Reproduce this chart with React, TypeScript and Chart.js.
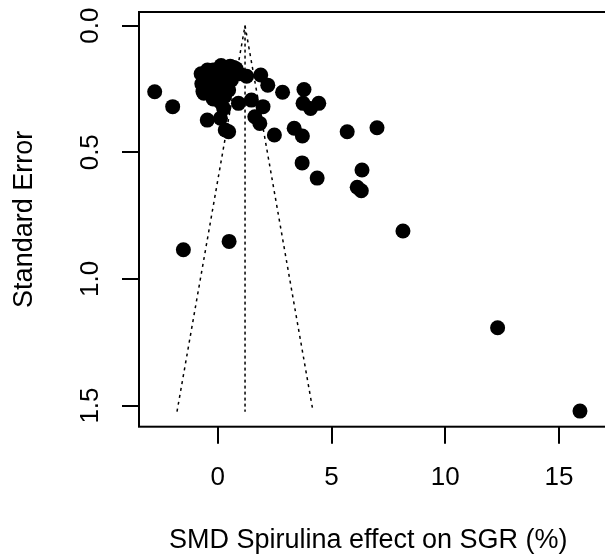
import React, { useEffect, useRef } from "react";
import { Chart, registerables } from "chart.js";

Chart.register(...registerables);

// Study effect sizes (SMD) and their standard errors
const effectSizes = [
  -2.77, -1.98, -1.51, 0.5, 15.92, 12.3, 8.14, 6.34, 6.13, 6.31,
  4.37, 3.71, 5.69, 7.0, 3.36, 3.72, 2.49, 3.79, 3.75, 4.08,
  4.44, 2.85, 1.89, 2.2, 0.91, 1.48, 1.99, 1.63, 1.85, 1.27,
  -0.46, 0.12, 0.26, 0.33, 0.48, -0.61, 0.48,
  -0.73, -0.7, -0.65, -0.5, -0.45, -0.35, -0.3, -0.2, -0.15, -0.05,
  0.05, 0.15, 0.2, 0.25, 0.35, 0.45, 0.55, 0.7, 0.8, 0.95,
  0.6, -0.05, 0.1, -0.2, 0.3,
];
const standardErrors = [
  0.261, 0.32, 0.885, 0.852, 1.522, 1.193, 0.811, 0.57, 0.638, 0.652,
  0.602, 0.542, 0.419, 0.403, 0.405, 0.436, 0.432, 0.252, 0.307, 0.327,
  0.307, 0.263, 0.195, 0.235, 0.307, 0.294, 0.32, 0.36, 0.386, 0.2,
  0.373, 0.366, 0.327, 0.412, 0.419, 0.267, 0.254,
  0.19, 0.23, 0.26, 0.2, 0.175, 0.235, 0.2, 0.175, 0.25, 0.21,
  0.18, 0.158, 0.2, 0.24, 0.165, 0.2, 0.16, 0.165, 0.17, 0.19,
  0.215, 0.27, 0.3, 0.29, 0.28,
];

// Funnel (pseudo 95% CI region) and pooled estimate line
const funnelEffect = [-1.79, 1.2, 4.19];
const funnelSE = [1.524, 0, 1.524];
const centerEffect = [1.2, 1.2];
const centerSE = [0, 1.524];

const xTickValues = [0, 5, 10, 15];
const yTickValues = [0, 0.5, 1.0, 1.5];

const xTitle = "SMD Spirulina effect on SGR (%)";
const yTitle = "Standard Error";

const FONT = "'Liberation Sans', Arial, Helvetica, sans-serif";

const boxPlugin = {
  id: "rbox",
  afterDraw(chart: any) {
    const { ctx, chartArea } = chart;
    const { left, top, right, bottom } = chartArea;
    ctx.save();
    ctx.strokeStyle = "#000";
    ctx.lineWidth = 2;
    ctx.strokeRect(left, top, right - left + 10, bottom - top);
    ctx.restore();
  },
};

export default function App() {
  const ref = useRef<HTMLCanvasElement | null>(null);

  useEffect(() => {
    if (!ref.current) return;
    const points = effectSizes.map((x, i) => ({ x, y: standardErrors[i] }));
    const funnel = funnelEffect.map((x, i) => ({ x, y: funnelSE[i] }));
    const center = centerEffect.map((x, i) => ({ x, y: centerSE[i] }));

    const chart = new Chart(ref.current, {
      type: "scatter",
      data: {
        datasets: [
          {
            data: points,
            pointRadius: 7.5,
            pointBackgroundColor: "#000",
            pointBorderWidth: 0,
            borderWidth: 0,
            showLine: false,
          },
          {
            data: funnel,
            showLine: true,
            pointRadius: 0,
            borderColor: "#000",
            borderWidth: 1.5,
            borderDash: [3, 4],
            fill: false,
          },
          {
            data: center,
            showLine: true,
            pointRadius: 0,
            borderColor: "#000",
            borderWidth: 1.5,
            borderDash: [3, 3],
            fill: false,
          },
        ],
      } as any,
      options: {
        animation: false,
        responsive: false,
        events: [],
        layout: { padding: { top: 12, left: 0, right: 0, bottom: 0 } },
        plugins: {
          legend: { display: false },
          tooltip: { enabled: false },
        },
        scales: {
          x: {
            type: "linear",
            min: -3.46,
            max: 16.69,
            afterBuildTicks: (scale: any) => {
              scale.ticks = xTickValues.map((v) => ({ value: v }));
            },
            afterFit: (scale: any) => {
              scale.height = 130.3;
              scale.paddingLeft = 0;
              scale.paddingRight = 0;
            },
            grid: {
              display: true,
              drawOnChartArea: false,
              drawTicks: true,
              tickLength: 17,
              color: "#000",
              lineWidth: 2,
            },
            border: { display: false },
            ticks: {
              color: "#000",
              font: { family: FONT, size: 26 },
              padding: 19,
              maxRotation: 0,
              minRotation: 0,
              autoSkip: false,
              callback: (v: any) => String(v),
            },
            title: {
              display: true,
              text: xTitle,
              color: "#000",
              font: { family: FONT, size: 27 },
              padding: { top: 0, bottom: 0 },
            },
          },
          y: {
            type: "linear",
            reverse: true,
            min: -0.0537,
            max: 1.5835,
            afterBuildTicks: (scale: any) => {
              scale.ticks = yTickValues.map((v) => ({ value: v }));
            },
            afterFit: (scale: any) => {
              scale.width = 139;
              scale.paddingTop = 0;
              scale.paddingBottom = 0;
            },
            grid: {
              display: true,
              drawOnChartArea: false,
              drawTicks: true,
              tickLength: 17,
              color: "#000",
              lineWidth: 2,
            },
            border: { display: false },
            ticks: {
              color: "#000",
              font: { family: FONT, size: 26 },
              padding: 13,
              minRotation: 90,
              maxRotation: 90,
              crossAlign: "center",
              autoSkip: false,
              callback: (v: any) => Number(v).toFixed(1),
            },
            title: {
              display: true,
              text: yTitle,
              color: "#000",
              font: { family: FONT, size: 27 },
              padding: { top: 8.3, bottom: 0 },
            },
          },
        },
      } as any,
      plugins: [boxPlugin],
    });
    return () => chart.destroy();
  }, []);

  return (
    <div style={{ position: "fixed", left: 0, top: 0, width: 605, height: 557, background: "#fff" }}>
      <canvas ref={ref} width={605} height={557} style={{ display: "block" }} />
    </div>
  );
}
